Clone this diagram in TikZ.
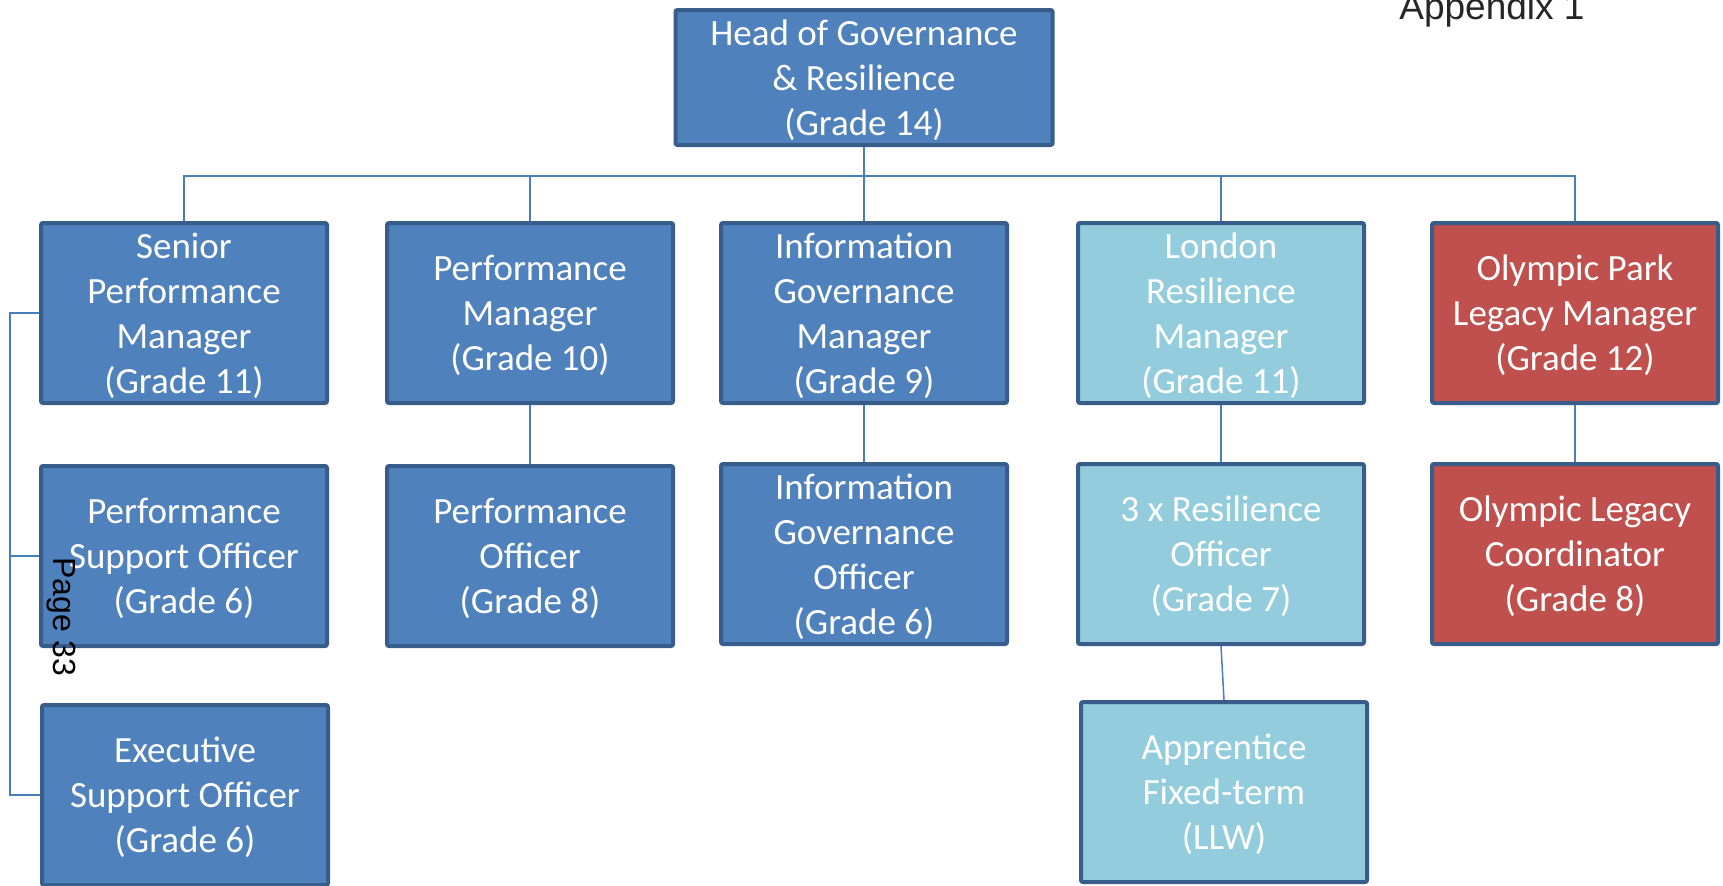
\documentclass[tikz,border=0pt]{standalone}
\usepackage{fontspec}
\setmainfont{Carlito}
\newfontfamily\labelfont{Liberation Sans}
\usepackage{xcolor}
\usepackage{tikz}
\usetikzlibrary{positioning}

\definecolor{postblue}{HTML}{4F81BD}
\definecolor{resilblue}{HTML}{93CDDD}
\definecolor{legacyred}{HTML}{C0504D}
\definecolor{postedge}{HTML}{385D8A}
\definecolor{linkblue}{HTML}{4A7EBB}

\begin{document}
\begin{tikzpicture}[
            x=0.5pt, y=-0.5pt,                 % page grid, y runs downwards
            node distance=29.5pt,              % gap between rows of posts
            post/.style={draw=postedge, line width=2pt, rounded corners=1pt,
                         fill=postblue, text=white, align=center, inner sep=2pt,
                         minimum width=143pt, minimum height=90pt,
                         text depth=-1pt,      % sit the lines a little lower
                         font=\fontsize{18.5}{22.5}\selectfont},
            resil/.style={post, fill=resilblue},  % London resilience team
            legacy/.style={post, fill=legacyred}, % Olympic legacy team
            link/.style={draw=linkblue, line width=0.75pt}
          ]
          \useasboundingbox (0,0) rectangle (1723,885);

          % head of service
          \node[post, minimum width=188.5pt, minimum height=67.5pt] (head) at (864,77.5)
            {Head of Governance\\ \& Resilience\\ (Grade 14)};

          % managers
          \node[post]   (spm)  at (184,313)  {Senior\\ Performance\\ Manager\\ (Grade 11)};
          \node[post]   (pm)   at (530,313)  {Performance\\ Manager\\ (Grade 10)};
          \node[post]   (igm)  at (864,313)  {Information\\ Governance\\ Manager\\ (Grade 9)};
          \node[resil]  (lrm)  at (1221,313) {London\\ Resilience\\ Manager\\ (Grade 11)};
          \node[legacy] (oplm) at (1575,313) {Olympic Park\\ Legacy Manager\\ (Grade 12)};

          % officers
          \node[post]   (pso)  [below=of spm]  {Performance\\ Support Officer\\ (Grade 6)};
          \node[post]   (po)   [below=of pm]   {Performance\\ Officer\\ (Grade 8)};
          \node[post]   (igo)  [below=28.5pt of igm]  {Information\\ Governance\\ Officer\\ (Grade 6)};
          \node[resil]  (ro)   [below=28.5pt of lrm]  {3 x Resilience\\ Officer\\ (Grade 7)};
          \node[legacy] (olc)  [below=28.5pt of oplm] {Olympic Legacy\\ Coordinator\\ (Grade 8)};
          \node[post]   (eso)  [below=27.5pt of pso, xshift=0.5pt] {Executive\\ Support Officer\\ (Grade 6)};
          \node[resil]  (app)  [below=27pt of ro, xshift=1.5pt]   {Apprentice\\ Fixed-term\\ (LLW)};

          % reporting lines
          \coordinate (bus) at (0,176);
          \coordinate (rail) at (10,0);
          \draw[link] (head.south) -- (igm.north);
          \draw[link] (spm.north) -- (spm.north |- bus) -- (oplm.north |- bus) -- (oplm.north);
          \foreach \n in {pm,lrm}
            \draw[link] (\n.north) -- (\n.north |- bus);
          \draw[link] (pm.south) -- (po.north);
          \draw[link] (igm.south) -- (igo.north);
          \draw[link] (lrm.south) -- (ro.north);
          \draw[link] (ro.south) -- (app.north);
          \draw[link] (oplm.south) -- (olc.north);
          \draw[link] (spm.west) -- (spm.west -| rail) -- (eso.west -| rail) -- (eso.west);
          \draw[link] (pso.west) -- (pso.west -| rail);

          % page furniture
          \node[anchor=base west, inner sep=0pt, text=black!85,
                font=\labelfont\fontsize{18.5}{18.5}\selectfont] (appx) at (1399,19) {Appendix 1};
          \node[rotate=-90, inner sep=0pt, text=black,
                font=\labelfont\fontsize{16}{16}\selectfont] (pagenum) at (61,617) {Page 33};
        \end{tikzpicture}
\end{document}
